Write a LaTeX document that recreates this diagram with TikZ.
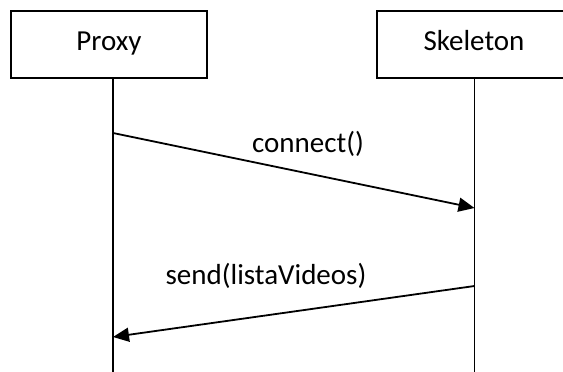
\documentclass[tikz,border=0pt]{standalone}
\usepackage{fontspec}
\setmainfont{Carlito}
\usetikzlibrary{arrows.meta}
\begin{document}
\begin{tikzpicture}[x=1pt,y=-1pt,
  objbox/.style={draw, line width=1.8pt, minimum height=67pt, inner sep=0pt,
    text height=17pt, text depth=6pt, font=\fontsize{29}{34}\selectfont},
  life/.style={line width=1.8pt},
  msg/.style={line width=1.8pt, -{Triangle[length=16pt,width=14pt]}},
  lbl/.style={anchor=base, inner sep=0pt, font=\fontsize{29}{34}\selectfont}]
\useasboundingbox (0,0) rectangle (563,372);
\clip (0,0) rectangle (563,372);
\node[objbox, minimum width=196pt] (proxy) at (109,44.5) {Proxy};
\node[objbox, minimum width=194pt] (skel) at (474,44.5) {Skeleton};
\coordinate (pbot) at (113,374);
\coordinate (sbot) at (474.5,374);
\draw[life] (proxy.south -| pbot) -- (pbot);
\draw[life] (skel.south -| sbot) -- (sbot);
\coordinate (m1s) at (113,133);
\coordinate (m1e) at (474.5,208);
\coordinate (m2s) at (474.5,286);
\coordinate (m2e) at (113,337);
\draw[msg] (m1s) -- (m1e);
\draw[msg] (m2s) -- (m2e);
\node[lbl] (l1) at (308,152) {connect()};
\node[lbl] (l2) at (266,284) {send(listaVideos)};
\end{tikzpicture}
\end{document}
